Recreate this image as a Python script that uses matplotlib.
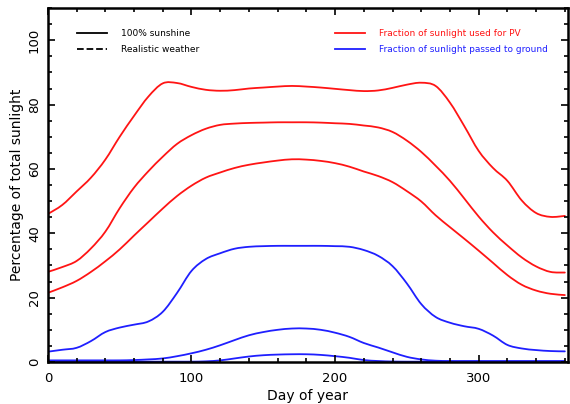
import numpy as np
import matplotlib
matplotlib.use("Agg")
import matplotlib.pyplot as plt
from matplotlib.lines import Line2D
from matplotlib.path import Path
from matplotlib.patches import PathPatch
from matplotlib.ticker import MultipleLocator

# day of year sampled every 10 days
days = [0, 10, 20, 30, 40, 50, 60, 70, 80, 90, 100, 110, 120, 130, 140, 150, 160, 170, 180,
        190, 200, 210, 220, 230, 240, 250, 260, 270, 280, 290, 300, 310, 320, 330, 340, 350, 360]

# fraction of sunlight used for PV (%)
pv_high = [46.0, 48.8, 53.0, 57.3, 62.9, 70.0, 76.5, 82.5, 86.6, 86.7, 85.5, 84.6, 84.3, 84.5,
           85.0, 85.3, 85.6, 85.8, 85.6, 85.3, 84.9, 84.5, 84.2, 84.4, 85.2, 86.2, 86.8, 85.8,
           80.6, 73.3, 65.6, 60.3, 56.3, 50.2, 46.3, 45.1, 45.4]
pv_mid = [28.0, 29.5, 31.4, 35.3, 40.5, 47.8, 54.2, 59.3, 63.8, 67.8, 70.5, 72.5, 73.7, 74.1,
          74.3, 74.4, 74.5, 74.5, 74.5, 74.4, 74.2, 74.0, 73.5, 72.9, 71.5, 68.8, 65.3, 61.0,
          56.3, 50.8, 45.2, 40.3, 36.2, 32.5, 29.7, 28.0, 27.8]
pv_low = [21.5, 23.2, 25.2, 28.0, 31.3, 35.0, 39.3, 43.5, 47.7, 51.6, 54.8, 57.3, 58.9, 60.3,
          61.3, 62.0, 62.6, 63.0, 62.9, 62.5, 61.8, 60.7, 59.2, 57.8, 55.9, 53.1, 49.9, 45.6,
          41.9, 38.3, 34.6, 30.8, 27.0, 24.0, 22.2, 21.2, 20.8]

# fraction of sunlight passed to ground (%)
ground_high = [3.2, 3.8, 4.4, 6.5, 9.3, 10.7, 11.6, 12.6, 15.6, 21.5, 28.3, 32.0, 33.8, 35.2,
               35.8, 36.0, 36.1, 36.1, 36.1, 36.1, 36.0, 35.8, 34.8, 33.0, 29.8, 24.4, 18.0,
               14.0, 12.2, 11.1, 10.3, 8.2, 5.3, 4.2, 3.7, 3.4, 3.3]
ground_mid = [0.5, 0.5, 0.5, 0.5, 0.5, 0.5, 0.6, 0.8, 1.1, 1.8, 2.7, 3.8, 5.2, 6.8, 8.3, 9.3,
              10.0, 10.4, 10.4, 10.0, 9.1, 7.8, 5.9, 4.5, 3.0, 1.6, 0.8, 0.4, 0.3, 0.3, 0.3,
              0.3, 0.3, 0.3, 0.3, 0.3, 0.3]
ground_low = [0.1, 0.1, 0.1, 0.1, 0.1, 0.1, 0.1, 0.1, 0.1, 0.1, 0.1, 0.2, 0.5, 1.1, 1.7, 2.1,
              2.3, 2.4, 2.4, 2.2, 1.8, 1.3, 0.6, 0.3, 0.15, 0.1, 0.1, 0.1, 0.1, 0.1, 0.1, 0.1,
              0.1, 0.1, 0.1, 0.1, 0.1]

RED = "#ff1414"
BLUE = "#1f1fff"
LW = 1.3


def smooth_curve(ax, x, y, color):
    """Draw a smooth line through the samples using cubic Bezier segments."""
    pts = np.column_stack([x, y]).astype(float)
    n = len(pts)
    verts = [pts[0]]
    codes = [Path.MOVETO]
    for i in range(n - 1):
        p0 = pts[max(i - 1, 0)]
        p1 = pts[i]
        p2 = pts[i + 1]
        p3 = pts[min(i + 2, n - 1)]
        verts += [p1 + (p2 - p0) / 6.0, p2 - (p3 - p1) / 6.0, p2]
        codes += [Path.CURVE4] * 3
    ax.add_patch(PathPatch(Path(verts, codes), fill=False, edgecolor=color,
                           lw=LW, capstyle="round", joinstyle="round"))


fig = plt.figure(figsize=(5.7, 4.04), dpi=100)
ax = fig.add_axes([0.084, 0.104, 0.912, 0.876])

for series in (pv_high, pv_mid, pv_low):
    smooth_curve(ax, days, series, RED)
for series in (ground_high, ground_mid, ground_low):
    smooth_curve(ax, days, series, BLUE)

ax.set_xlim(0, 362)
ax.set_ylim(0, 110)
ax.xaxis.set_major_locator(MultipleLocator(100))
ax.xaxis.set_minor_locator(MultipleLocator(20))
ax.yaxis.set_major_locator(MultipleLocator(20))
ax.yaxis.set_minor_locator(MultipleLocator(5))

ax.tick_params(which="both", direction="in", top=True, right=True, width=1.2,
               labelsize=9.5)
ax.tick_params(axis="x", pad=7)
ax.tick_params(axis="y", pad=5)
ax.tick_params(which="major", length=5)
ax.tick_params(which="minor", length=2.8)
for lab in ax.get_yticklabels():
    lab.set_rotation(90)
    lab.set_va("center")

for spine in ax.spines.values():
    spine.set_linewidth(1.8)

ax.set_xlabel("Day of year", fontsize=10, labelpad=3)
ax.set_ylabel("Percentage of total sunlight", fontsize=10, labelpad=3)

# line-style key
style_handles = [Line2D([], [], color="black", lw=LW, ls="-"),
                 Line2D([], [], color="black", lw=LW, ls="--")]
leg1 = ax.legend(style_handles, ["100% sunshine", "Realistic weather"],
                 loc="upper left", bbox_to_anchor=(0.056, 0.94), frameon=False,
                 fontsize=6.5, handlelength=3.3, handletextpad=1.55, labelspacing=0.75,
                 borderpad=0, borderaxespad=0)
ax.add_artist(leg1)

# colour key
colour_handles = [Line2D([], [], color=RED, lw=LW), Line2D([], [], color=BLUE, lw=LW)]
leg2 = ax.legend(colour_handles, ["Fraction of sunlight used for PV",
                                  "Fraction of sunlight passed to ground"],
                 loc="upper left", bbox_to_anchor=(0.552, 0.94), frameon=False,
                 fontsize=6.5, handlelength=3.3, handletextpad=1.55, labelspacing=0.75,
                 borderpad=0, borderaxespad=0)
for txt, col in zip(leg2.get_texts(), (RED, BLUE)):
    txt.set_color(col)

fig.savefig("out.png", dpi=100)
